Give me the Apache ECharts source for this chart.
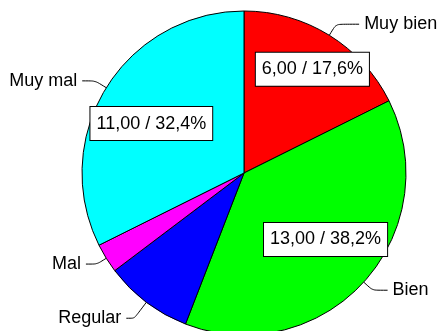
<!DOCTYPE html>
<html lang="es">
<head>
    <meta charset="UTF-8">
    <title>Pie</title>
    <script src="https://cdn.jsdelivr.net/npm/echarts@6/dist/echarts.min.js"></script>
</head>
<body style="margin:0">
<div id="chart-container" style="width: 438px;height: 331px;"></div>
</body>
<script type="text/javascript">
    // datos
    var categorias = ['Muy bien', 'Bien', 'Regular', 'Mal', 'Muy mal'];
    var valores = [6, 13, 3, 1, 11];
    var colores = ['#ff0000', '#00ff00', '#0000ff', '#ff00ff', '#00ffff'];
    var conCaja = [true, true, false, false, true];
    // desplazamiento fino de las cajas y guias
    var ajustes = [[11, -11], [1, -7], [0, 0], [0, 0], [0, 8]];
    var guias = [[13, 23], [12, 15], [20, 8], [11, 11], [13, 13]];

    var total = valores.reduce(function (a, b) { return a + b; }, 0);
    var fuente = '"Liberation Sans", Arial, sans-serif';

    var myChart = echarts.init(document.getElementById('chart-container'));

    var datosExt = categorias.map(function (c, i) {
        return {
            name: c, value: valores[i],
            itemStyle: { color: colores[i] },
            labelLine: { length: guias[i][0], length2: guias[i][1] }
        };
    });
    var datosInt = categorias.map(function (c, i) {
        return { name: c, value: valores[i], label: { show: conCaja[i], offset: ajustes[i] } };
    });

    var option = {
        animation: false,
        series: [
            {
                type: 'pie',
                center: [244, 173],
                radius: [0, 162],
                startAngle: 90,
                avoidLabelOverlap: false,
                data: datosExt,
                itemStyle: { borderColor: '#000', borderWidth: 1 },
                label: {
                    color: '#000',
                    fontFamily: fuente,
                    fontSize: 18,
                    formatter: '{b}'
                },
                labelLine: {
                    show: true,
                    smooth: 0.2,
                    lineStyle: { color: '#000', width: 1 }
                },
                emphasis: { disabled: true }
            },
            {
                type: 'pie',
                center: [244, 173],
                radius: [0, 212],
                startAngle: 90,
                silent: true,
                z: 5,
                avoidLabelOverlap: false,
                data: datosInt,
                itemStyle: { color: 'transparent', borderWidth: 0 },
                label: {
                    position: 'inside',
                    color: '#000',
                    fontFamily: fuente,
                    fontSize: 18,
                    backgroundColor: '#fff',
                    borderColor: '#000',
                    borderWidth: 1,
                    padding: [8, 6, 7, 6],
                    formatter: function (p) {
                        var pct = (p.value / total * 100).toFixed(1).replace('.', ',');
                        return p.value.toFixed(2).replace('.', ',') + ' / ' + pct + '%';
                    }
                },
                labelLine: { show: false },
                emphasis: { disabled: true }
            }
        ]
    };
    myChart.setOption(option);
</script>
</html>
